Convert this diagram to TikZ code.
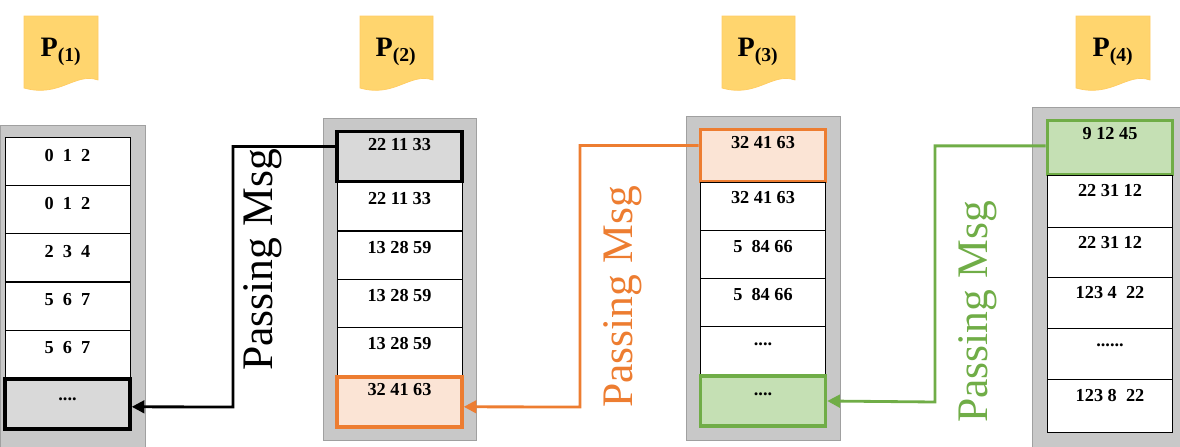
\documentclass[tikz,border=0pt]{standalone}
\usepackage{fontspec}
\setmainfont{Liberation Serif}
\usetikzlibrary{arrows.meta,positioning}
\definecolor{bggray}{RGB}{200,200,200}
\definecolor{docyel}{RGB}{255,213,110}
\definecolor{msgorange}{RGB}{237,125,49}
\definecolor{msggreen}{RGB}{112,173,71}
\definecolor{fillorange}{RGB}{251,228,213}
\definecolor{fillgreen}{RGB}{197,224,180}
\definecolor{fillgray}{RGB}{217,217,217}
\tikzset{
  colbg/.style={fill=bggray,draw=bggray!80!black,line width=0.4pt,inner sep=0pt},
  cell/.style={draw=black,fill=white,line width=0.6pt,minimum width=3.125cm,minimum height=1.2cm,inner sep=0pt},
  num/.style={anchor=north,font=\bfseries\fontsize{13}{13}\selectfont,inner sep=0pt},
  msg/.style={rotate=90,font=\fontsize{31}{31}\selectfont},
  doc/.style={fill=docyel,draw=docyel!90!orange,line width=0.5pt},
  plabel/.style={font=\bfseries\fontsize{20}{20}\selectfont,inner sep=0pt},
  link/.style={line width=2pt,-{Triangle[length=9pt,width=9pt]}}
}
\begin{document}
\begin{tikzpicture}[x=0.025cm,y=-0.025cm]
\useasboundingbox (0,0) rectangle (1180,447);
% gray backgrounds
\draw[colbg] (0,125) rectangle (145,447);
\draw[colbg] (323,118) rectangle (476,440);
\draw[colbg] (686,116) rectangle (840,440);
\draw[colbg] (1032,107) rectangle (1180,447);
% document labels
\draw[doc] (24,16) -- (98,16) -- (98,80) .. controls (75,72) and (60,98) .. (24,88) -- cycle;
\draw[doc] (360,16) -- (433,16) -- (433,80) .. controls (410,72) and (395,98) .. (360,88) -- cycle;
\draw[doc] (722,16) -- (795,16) -- (795,80) .. controls (772,72) and (757,98) .. (722,88) -- cycle;
\draw[doc] (1076,16) -- (1150,16) -- (1150,80) .. controls (1127,72) and (1112,98) .. (1076,88) -- cycle;
\node[plabel] (p1) at (61,52) {P\textsubscript{(1)}};
\node[plabel] (p2) at (396,52) {P\textsubscript{(2)}};
\node[plabel] (p3) at (758,52) {P\textsubscript{(3)}};
\node[plabel] (p4) at (1113,52) {P\textsubscript{(4)}};
% column 1
\node[cell] (a1) at (67.5,161.5) {};
\node[cell] (a2) at (67.5,209) {};
\node[cell] (a3) at (67.5,257.5) {};
\node[cell] (a4) at (67.5,306) {};
\node[cell] (a5) at (67.5,354) {};
\node[cell,fill=fillgray,line width=2.5pt,minimum height=1.25cm] (a6) at (67.5,404) {};
\node[num] (ta1) at ([yshift=-0.3cm]a1.north) {0\enspace1\enspace2};
\node[num] (ta2) at ([yshift=-0.3cm]a2.north) {0\enspace1\enspace2};
\node[num] (ta3) at ([yshift=-0.3cm]a3.north) {2\enspace3\enspace4};
\node[num] (ta4) at ([yshift=-0.3cm]a4.north) {5\enspace6\enspace7};
\node[num] (ta5) at ([yshift=-0.3cm]a5.north) {5\enspace6\enspace7};
\node[num] (ta6) at ([yshift=-0.5cm]a6.north) {....};
% column 2
\node[cell,fill=fillgray,line width=2.5pt,minimum height=1.25cm] (b1) at (399.5,156.5) {};
\node[cell] (b2) at (399.5,206.5) {};
\node[cell] (b3) at (399.5,255) {};
\node[cell] (b4) at (399.5,303) {};
\node[cell] (b5) at (399.5,351.5) {};
\node[cell,fill=fillorange,draw=msgorange,line width=2.5pt,minimum height=1.25cm] (b6) at (399.5,402) {};
\node[num] (tb1) at ([yshift=-0.2cm]b1.north) {22 11 33};
\node[num] (tb2) at ([yshift=-0.25cm]b2.north) {22 11 33};
\node[num] (tb3) at ([yshift=-0.25cm]b3.north) {13 28 59};
\node[num] (tb4) at ([yshift=-0.25cm]b4.north) {13 28 59};
\node[num] (tb5) at ([yshift=-0.25cm]b5.north) {13 28 59};
\node[num] (tb6) at ([yshift=-0.2cm]b6.north) {32 41 63};
% column 3
\node[cell,fill=fillorange,draw=msgorange,line width=2.5pt,minimum height=1.3cm] (c1) at (763,155.5) {};
\node[cell] (c2) at (763,206) {};
\node[cell] (c3) at (763,254) {};
\node[cell] (c4) at (763,302) {};
\node[cell] (c5) at (763,350.5) {};
\node[cell,fill=fillgreen,draw=msggreen,line width=2.5pt,minimum height=1.25cm] (c6) at (763,401) {};
\node[num] (tc1) at ([yshift=-0.2cm]c1.north) {32 41 63};
\node[num] (tc2) at ([yshift=-0.25cm]c2.north) {32 41 63};
\node[num] (tc3) at ([yshift=-0.25cm]c3.north) {5\enspace84 66};
\node[num] (tc4) at ([yshift=-0.25cm]c4.north) {5\enspace84 66};
\node[num] (tc5) at ([yshift=-0.4cm]c5.north) {....};
\node[num] (tc6) at ([yshift=-0.45cm]c6.north) {....};
% column 4
\node[cell,fill=fillgreen,draw=msggreen,line width=2.5pt,minimum height=1.35cm] (d1) at (1110,147.5) {};
\node[cell,minimum height=1.3cm] (d2) at (1110,201) {};
\node[cell,minimum height=1.25cm] (d3) at (1110,252) {};
\node[cell,minimum height=1.275cm] (d4) at (1110,302.5) {};
\node[cell,minimum height=1.275cm] (d5) at (1110,353.5) {};
\node[cell,minimum height=1.325cm] (d6) at (1110,405.5) {};
\node[num] (td1) at ([yshift=-0.2cm]d1.north) {9 12 45};
\node[num] (td2) at ([yshift=-0.25cm]d2.north) {22 31 12};
\node[num] (td3) at ([yshift=-0.25cm]d3.north) {22 31 12};
\node[num] (td4) at ([yshift=-0.25cm]d4.north) {123 4\enspace 22};
\node[num] (td5) at ([yshift=-0.4cm]d5.north) {......};
\node[num] (td6) at ([yshift=-0.25cm]d6.north) {123 8\enspace 22};
% messages
\draw[link,black] ([yshift=0.25cm]b1.west) -| (233,407) -- ([yshift=-0.07cm]a6.east);
\draw[link,msgorange] ([yshift=0.25cm]c1.west) -| (580,407) -- ([yshift=-0.12cm]b6.east);
\draw[link,msggreen] ([yshift=0.04cm]d1.west) -| (935,402) -- (c6.east);
\node[msg] (m1) at (263,260) {Passing Msg};
\node[msg,text=msgorange] (m2) at (623,297) {Passing Msg};
\node[msg,text=msggreen] (m3) at (978,312) {Passing Msg};
\end{tikzpicture}
\end{document}
